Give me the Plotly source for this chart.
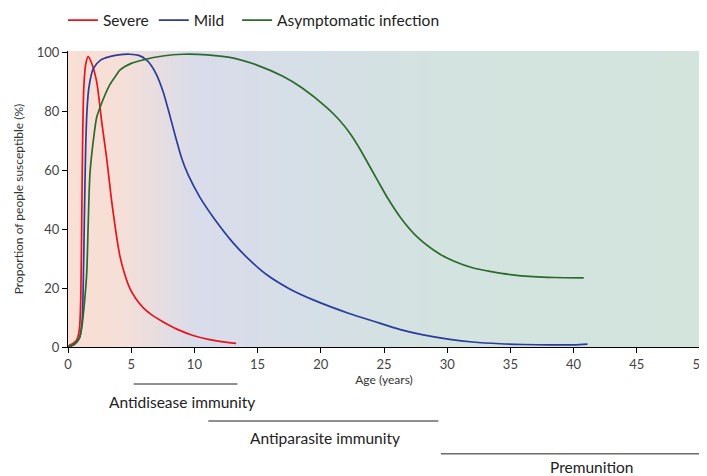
import numpy as np
import plotly.graph_objects as go

# ---- data ----
severe_age = [0, 0.16, 0.4, 0.7, 0.9, 1.0, 1.08, 1.15, 1.25, 1.4, 1.6, 1.9, 2.27, 2.66, 3.06, 3.5, 4.1,
              4.5, 4.9, 5.4, 5.96, 6.6, 7.3, 8.0, 8.7, 9.9, 11.2, 12.6, 13.3]
severe_pct = [0, 0.7, 1.2, 2.5, 6, 15, 40, 68, 88, 96, 98.6, 96, 90, 76.7, 64, 48, 31,
              24.5, 19.8, 16.2, 13.3, 11, 9.1, 7.4, 5.9, 3.9, 2.5, 1.55, 1.2]

mild_age = [0, 0.5, 0.9, 1.1, 1.2, 1.3, 1.4, 1.5, 1.65, 2.0, 2.6, 3.3, 4.0, 4.9, 5.6, 6.2, 6.6, 7.0,
            7.5, 8.0, 8.5, 9.0, 9.5, 10.44, 11.5, 13.1, 14.4, 15.7, 17.5, 19.4, 22.3, 24.0, 26.3, 28.0,
            30.2, 32.0, 34.2, 36.0, 38.1, 40.0, 41.1]
mild_pct = [0, 0.8, 3, 8, 20, 45, 68, 80, 88, 94.5, 97.5, 98.6, 99.2, 99.4, 99, 97.5, 95.5, 92.5,
            87, 79.5, 71.5, 64, 58.5, 50.8, 44, 35.2, 29.4, 24.6, 19.8, 16.0, 11.3, 9.0, 5.9, 4.2,
            2.6, 1.7, 1.1, 0.85, 0.7, 0.75, 1.0]

asym_age = [0, 0.5, 0.9, 1.1, 1.3, 1.48, 1.6, 1.74, 2.0, 2.27, 2.5, 3.3, 3.85, 4.1, 5.0, 5.96, 7.5,
            9.1, 11.0, 13.1, 14.9, 17.0, 18.5, 20.5, 21.5, 22.4, 23.0, 23.6, 24.5, 25.3, 26.3, 27.6,
            29.4, 30.5, 32.0, 33.5, 35.0, 36.8, 38.5, 40.8]
asym_pct = [0, 1, 3, 7, 15, 25, 42, 59, 70, 78, 81, 89, 92.5, 94, 96.3, 97.5, 98.8,
            99.4, 99.2, 98.1, 95.8, 91.9, 88, 81.2, 76.9, 72.0, 67.9, 63.4, 56.5, 50.5, 44, 37.5,
            31.6, 29.2, 26.9, 25.6, 24.6, 23.9, 23.6, 23.5]

x_ticks = [0, 5, 10, 15, 20, 25, 30, 35, 40, 45, 50]
y_ticks = [0, 20, 40, 60, 80, 100]

phase_names = ["Antidisease immunity", "Antiparasite immunity", "Premunition"]
phase_start = [5.2, 11.1, 29.5]
phase_end = [13.4, 29.3, 50]
phase_label_x = [9.0, 20.3, 41.4]

# background gradient stops (age fraction, colour)
bg_stops = [[0.0, "#f9dfd4"], [0.08, "#f6dfd7"], [0.2, "#d9dcea"], [0.4, "#d5dfe6"],
            [0.6, "#d3e3df"], [1.0, "#d2e4dc"]]

FONT = "Lato"
SP = "\u00a0"

fig = go.Figure()

gx = np.linspace(0, 50, 201)
fig.add_trace(go.Heatmap(x=gx, y=[0, 101], z=[gx, gx], colorscale=bg_stops, showscale=False,
                         zsmooth="best", hoverinfo="skip", showlegend=False))

fig.add_trace(go.Scatter(x=severe_age, y=severe_pct, mode="lines", name="Severe",
                         line=dict(color="#e8141c", width=1.7, shape="spline", smoothing=0.8)))
fig.add_trace(go.Scatter(x=mild_age, y=mild_pct, mode="lines", name="Mild" + SP * 2,
                         line=dict(color="#2b3c9c", width=1.7, shape="spline", smoothing=0.8)))
fig.add_trace(go.Scatter(x=asym_age, y=asym_pct, mode="lines", name="Asymptomatic infection",
                         line=dict(color="#2b6a2b", width=1.7, shape="spline", smoothing=0.8)))

line_y = [-0.125, -0.25, -0.361]
text_y = [-0.186, -0.307, -0.405]
for name, s, e, lx, ly, ty in zip(phase_names, phase_start, phase_end, phase_label_x, line_y, text_y):
    fig.add_shape(type="line", xref="x", yref="paper", x0=s, x1=e, y0=ly, y1=ly,
                  line=dict(color="#222222", width=1))
    fig.add_annotation(text=name, xref="x", yref="paper", x=lx, y=ty, showarrow=False,
                       xanchor="center", yanchor="middle",
                       font=dict(family=FONT, size=15.5, color="#222222"))

# the page body adds an 8px offset; figure size/margins compensate for it
fig.update_layout(
    width=699, height=468,
    margin=dict(l=60, r=7, t=43, b=129, autoexpand=False),
    paper_bgcolor="white", plot_bgcolor="white",
    font=dict(family=FONT, size=13, color="#333333"),
    showlegend=True,
    legend=dict(orientation="h", x=-0.008, xanchor="left", y=1.16, yanchor="top",
                font=dict(family=FONT, size=15.5, color="#222222"),
                bgcolor="rgba(0,0,0,0)"),
    xaxis=dict(range=[0, 50], tickvals=x_ticks, showline=True, linecolor="black", linewidth=1,
               ticks="outside", ticklen=5, tickcolor="black", showgrid=False, zeroline=False,
               automargin=False, ticklabeloverflow="allow", tickfont=dict(size=13, color="#444444"),
               title=dict(text="Age (years)", font=dict(size=12, color="#333333"), standoff=5)),
    yaxis=dict(range=[0, 100.5], tickvals=y_ticks, showline=True, linecolor="black", linewidth=1,
               ticks="outside", ticklen=5, tickcolor="black", showgrid=False, zeroline=False,
               automargin=False, tickfont=dict(size=13, color="#444444"),
               title=dict(text="Proportion of people susceptible (%)", font=dict(size=12, color="#333333"),
                          standoff=10)),
)

fig.write_html("out.html")
